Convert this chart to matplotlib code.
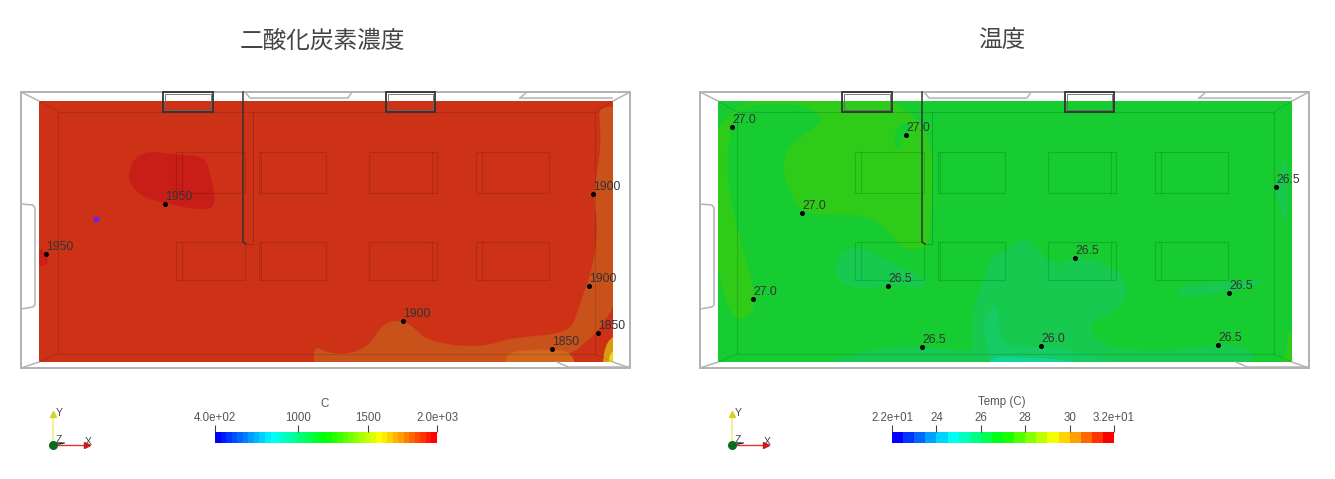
"""CO2 and temperature slices of the room, two panels side by side."""
import numpy as np
import matplotlib; matplotlib.use("Agg"); import matplotlib.pyplot as plt
from matplotlib.colors import LinearSegmentedColormap
from matplotlib.patches import Polygon, Rectangle

plt.rcParams["font.family"] = ["Liberation Sans", "DejaVu Sans"]
W, H = 1335, 479
JP = ["Noto Sans CJK JP", "DejaVu Sans"]
DX = 679  # right panel is the same room shifted by this many px

TITLES = ["二酸化炭素濃度", "温度"]

# probes: x px, y px, label
CO2_X = [165, 46, 593, 589, 403, 598, 552]
CO2_Y = [204, 254, 194, 286, 321, 333, 349]
CO2_LAB = ["1950", "1950", "1900", "1900", "1900", "1850", "1850"]
TEMP_X = [732, 906, 802, 753, 888, 922, 1276, 1075, 1229, 1041, 1218]
TEMP_Y = [127, 135, 213, 299, 286, 347, 187, 258, 293, 346, 345]
TEMP_LAB = ["27.0", "27.0", "27.0", "27.0", "26.5", "26.5", "26.5", "26.5", "26.5", "26.0", "26.5"]

# contour regions, px
CO2_BASE = "#cd3217"
CO2_REGIONS = [
    ("#c91d17", [(128, 173), (135, 157), (150, 151), (177, 155), (205, 156), (211, 177), (217, 207), (200, 210),
                 (167, 204), (143, 197), (131, 186)]),
    ("#cb1f18", [(30, 248), (46, 250), (49, 262), (44, 266), (30, 266)]),
    ("#c9521a", [(600, 125), (599, 110), (606, 107), (625, 106), (625, 375), (315, 375), (313, 345), (328, 353),
                 (350, 354), (370, 345), (383, 323), (402, 320), (413, 327), (427, 340), (457, 346), (487, 346),
                 (510, 338), (570, 333), (578, 310), (593, 267), (598, 227), (593, 197), (601, 147)]),
    ("#d0681c", [(503, 375), (506, 353), (527, 350), (557, 349), (573, 354), (577, 375)]),
    ("#dc9a12", [(625, 330), (610, 338), (604, 350), (602, 375), (625, 375)]),
    ("#e6e010", [(625, 345), (612, 350), (608, 362), (608, 375), (625, 375)]),
]
TEMP_BASE = "#16cc30"
TEMP_REGIONS = [
    ("#2ecc18", [(705, 90), (932, 90), (932, 243), (920, 249), (903, 249), (890, 233), (870, 215), (833, 215),
                 (802, 213), (790, 193), (782, 167), (790, 143), (826, 122), (807, 104), (750, 104), (733, 113),
                 (725, 167), (737, 230), (754, 287), (755, 310), (740, 322), (727, 307), (722, 285), (717, 270),
                 (705, 270)]),
    (TEMP_BASE, [(898, 125), (907, 122), (914, 127), (904, 135), (900, 151), (893, 143)]),
    ("#2ecc18", [(1280, 370), (1288, 345), (1288, 330), (1300, 330), (1300, 370)]),
    ("#17c94f", [(835, 270), (840, 253), (853, 246), (870, 252), (903, 267), (930, 282), (920, 288), (890, 285),
                 (863, 289), (840, 283)]),
    ("#17c94f", [(973, 343), (972, 313), (983, 280), (990, 257), (1010, 248), (1025, 235), (1037, 250), (1057, 266),
                 (1075, 257), (1097, 260), (1117, 270), (1130, 290), (1117, 310), (1092, 322), (1090, 333),
                 (1107, 348), (1167, 352), (1190, 347), (1233, 344), (1258, 355), (1245, 370), (805, 370),
                 (857, 352), (903, 345), (973, 352)]),
    ("#16cb62", [(983, 323), (993, 303), (998, 313), (1000, 337), (1010, 347), (1057, 347), (1093, 357), (1140, 364),
                 (1000, 372), (990, 364), (987, 350)]),
    ("#12d49a", [(990, 357), (1020, 357), (1070, 360), (1100, 368), (990, 368)]),
    ("#17c94f", [(1175, 290), (1187, 284), (1230, 282), (1267, 278), (1253, 287), (1230, 292), (1183, 298)]),
    ("#17c94f", [(1275, 187), (1283, 165), (1286, 155), (1287, 190), (1288, 228), (1278, 203)]),
]

# colour bars
CO2_TICKS = [400, 1000, 1500, 2000]
CO2_TICKLAB = ["4.0e+02", "1000", "1500", "2.0e+03"]
TEMP_TICKS = [22, 24, 26, 28, 30, 32]
TEMP_TICKLAB = ["2.2e+01", "24", "26", "28", "30", "3.2e+01"]

rainbow = LinearSegmentedColormap.from_list("pv", ["#0000ff", "#00ffff", "#00ff00", "#ffff00", "#ff0000"])


def smooth(pts, n=3):
    # corner cutting so the contour blobs are not jagged
    p = np.array(pts, float)
    for _ in range(n):
        q = np.roll(p, -1, axis=0)
        p = np.column_stack([.75 * p + .25 * q, .25 * p + .75 * q]).reshape(-1, 2)
    return p


def room(ax, dx, base, regions):
    field = Rectangle((39 + dx, 101), 574, 261, fc=base, ec="none", zorder=1)
    ax.add_patch(field)
    for col, pts in regions:
        pg = Polygon(smooth(pts), fc=col, ec="none", zorder=2)
        ax.add_patch(pg); pg.set_clip_path(field)

    grey = dict(color="#b4b4b4", lw=1.1, zorder=4)
    ax.add_patch(Rectangle((21 + dx, 92), 609, 276, fc="none", ec="#ababab", lw=1.3, zorder=4))
    for x0, y0, x1, y1 in [(21, 92, 39, 101), (630, 92, 613, 101), (21, 368, 39, 362), (630, 368, 613, 362)]:
        ax.plot([x0 + dx, x1 + dx], [y0, y1], **grey)
    # doors
    ax.plot(np.array([21, 33, 35, 35, 33, 21]) + dx, [204, 205, 208, 305, 307, 309], **grey)
    ax.plot(np.array([245, 250, 348, 352]) + dx, [92, 98, 98, 92], **grey)
    ax.plot(np.array([520, 527, 613, 630]) + dx, [98, 92, 92, 92], **grey)
    ax.plot(np.array([520, 612]) + dx, [98, 98], **grey)
    ax.plot(np.array([557, 568, 630]) + dx, [362, 367, 367], **grey)

    # inner ceiling outline, desks, windows and partition seen through the field
    dark = dict(fc="none", ec="#000000", lw=.8, alpha=.13, zorder=3)
    ax.add_patch(Rectangle((58 + dx, 112), 537, 242, **dark))
    for x0, y0, x1, y1 in [(39, 101, 58, 112), (613, 101, 595, 112), (39, 362, 58, 354), (613, 362, 595, 354)]:
        ax.plot([x0 + dx, x1 + dx], [y0, y1], color="k", lw=.7, alpha=.12, zorder=3)
    for x0, x1, xi in [(176, 245, 182), (259, 326, 261), (369, 437, 432), (476, 549, 482)]:
        for y0, y1 in [(152, 193), (242, 280)]:
            ax.add_patch(Rectangle((x0 + dx, y0), x1 - x0, y1 - y0, **dark))
            ax.plot([xi + dx, xi + dx], [y0, y1], color="k", lw=.8, alpha=.13, zorder=3)
    for x0, x1 in [(163, 213), (386, 435)]:
        ax.add_patch(Rectangle((x0 + dx, 92), x1 - x0, 20, fc="none", ec="#333333", lw=1.3, zorder=5))
        ax.add_patch(Rectangle((x0 + 2 + dx, 94), x1 - x0 - 4, 16, fc="none", ec="#666666", lw=.6, zorder=5))
    ax.plot([243 + dx, 243 + dx, 246 + dx], [92, 242, 244], color="#333333", lw=1.1, zorder=5)
    ax.plot([253 + dx, 253 + dx, 247 + dx], [112, 244, 244], color="k", lw=.7, alpha=.18, zorder=5)


def triad(ax, dx):
    ax.plot([53 + dx, 53 + dx], [445, 414], color="#f5f08c", lw=1.3, zorder=2)
    ax.plot([53 + dx, 86 + dx], [445, 445], color="#e83030", lw=1, zorder=2)
    ax.plot([53 + dx, 64 + dx], [445, 443], color="#222222", lw=1, zorder=3)
    ax.plot([53 + dx], [414], marker="^", ms=5, color="#d8d020", zorder=3)
    ax.plot([87 + dx], [445], marker=">", ms=4.5, color="#d01818", zorder=3)
    ax.plot([53 + dx], [445], marker="o", ms=5.5, color="#0d6b20", zorder=4)
    for s, x, y in [("Y", 59, 413), ("Z", 59, 440), ("X", 88, 442)]:
        ax.text(x + dx, y, s, fontsize=7.5, color="#444444", ha="center", va="center", zorder=5)


def colorbar(fig, x0, x1, vals, labels, n):
    cax = fig.add_axes([x0 / W, 1 - 443 / H, (x1 - x0) / W, 11 / H])
    edges = np.linspace(vals[0], vals[-1], n + 1)
    cax.pcolormesh(edges, [0, 1], np.linspace(0, 1, n)[None, :], cmap=rainbow, vmin=0, vmax=1)
    cax.set_yticks([])
    cax.xaxis.tick_top()
    cax.set_xticks(vals, labels, fontsize=8.3, color="#555555")
    cax.tick_params(axis="x", length=5, width=.8, color="#444444", pad=.5)
    for sp in cax.spines.values():
        sp.set_visible(False)


fig = plt.figure(figsize=(W / 100, H / 100), dpi=100)
ax = fig.add_axes([0, 0, 1, 1]); ax.set_xlim(0, W); ax.set_ylim(H, 0); ax.axis("off")

room(ax, 0, CO2_BASE, CO2_REGIONS)
room(ax, DX, TEMP_BASE, TEMP_REGIONS)
ax.plot([96], [219], "s", ms=2.5, color="#7020e0", zorder=6)

for xs, ys, labs in [(CO2_X, CO2_Y, CO2_LAB), (TEMP_X, TEMP_Y, TEMP_LAB)]:
    ax.plot(xs, ys, "o", ms=2.6, color="k", zorder=7)
    for x, y, s in zip(xs, ys, labs):
        ax.text(x, y - 7, s, fontsize=8.7, color="#333333", ha="left", va="center", zorder=7)

ax.text(322, 41, TITLES[0], family=JP, fontsize=17, color="#444444", ha="center", va="center")
ax.text(1002, 41, TITLES[1], family=JP, fontsize=17, color="#444444", ha="center", va="center")

triad(ax, 0); triad(ax, DX)
colorbar(fig, 215, 437, CO2_TICKS, CO2_TICKLAB, 40)
colorbar(fig, 892, 1114, TEMP_TICKS, TEMP_TICKLAB, 20)
ax.text(325, 404, "C", fontsize=8.3, color="#555555", ha="center", va="center")
ax.text(1002, 402, "Temp (C)", fontsize=8.3, color="#555555", ha="center", va="center")

fig.savefig("out.png", dpi=100)
